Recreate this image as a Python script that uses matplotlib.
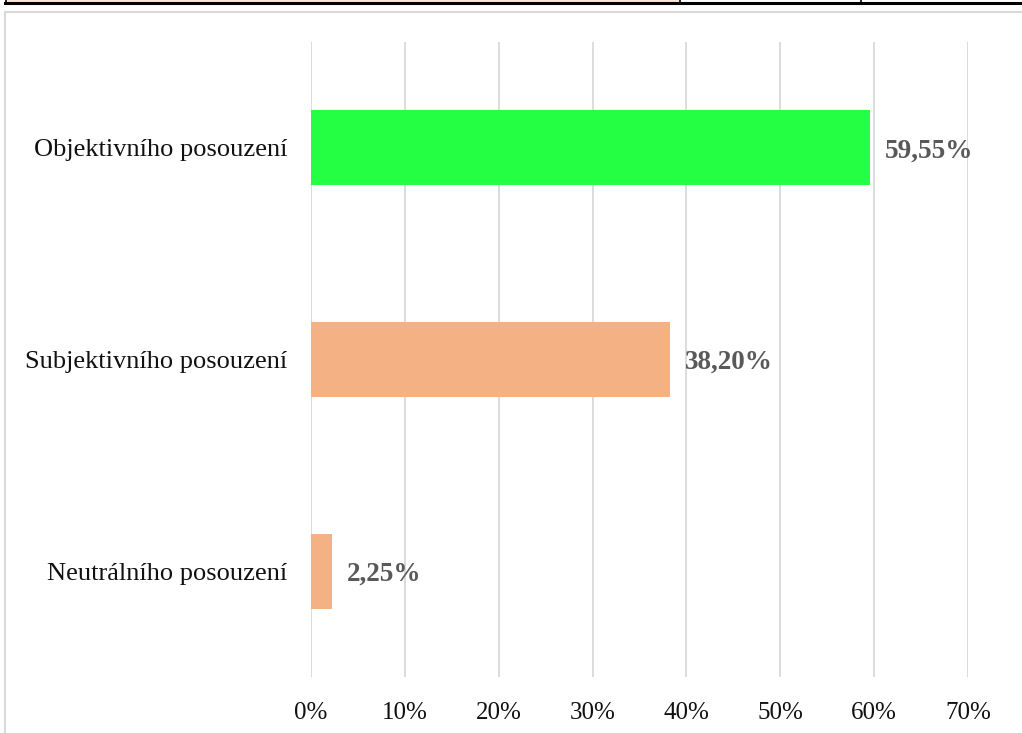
import matplotlib
matplotlib.use("Agg")
import matplotlib.pyplot as plt
from matplotlib.patches import Rectangle
from matplotlib.lines import Line2D
from matplotlib.ticker import PercentFormatter

categories = ["Objektivního posouzení", "Subjektivního posouzení", "Neutrálního posouzení"]
values = [59.55, 38.20, 2.25]
labels = ["59,55%", "38,20%", "2,25%"]
bar_colors = ["#24FF44", "#F4B183", "#F4B183"]

plt.rcParams["font.family"] = ["Liberation Serif", "DejaVu Serif"]

W, H = 1022, 733
fig = plt.figure(figsize=(W / 100, H / 100), dpi=100)
fig.patch.set_facecolor("white")

def fx(px):
    return px / W

def fy(py):
    return 1 - py / H

# Table row fragment above the chart
fig.add_artist(Rectangle((fx(7), fy(2)), fx(673), 2 / H, transform=fig.transFigure,
                         facecolor="#FBE4D5", edgecolor="none"))
fig.add_artist(Line2D([fx(5), 1], [fy(2.5), fy(2.5)], transform=fig.transFigure,
                      color="black", lw=2.2))
for xv in (6, 680, 861):
    fig.add_artist(Line2D([fx(xv), fx(xv)], [1, fy(3)], transform=fig.transFigure,
                          color="black", lw=1.2))

# Chart frame
fig.add_artist(Line2D([fx(5), 1], [fy(11.5), fy(11.5)], transform=fig.transFigure,
                      color="#D9D9D9", lw=1.5))
fig.add_artist(Line2D([fx(5), fx(5)], [fy(11.5), 0], transform=fig.transFigure,
                      color="#D9D9D9", lw=1.5))

ax = fig.add_axes([fx(311), 56 / H, fx(968) - fx(311), (677 - 42) / H])
y = list(range(len(categories)))
ax.barh(y, values, height=0.354, color=bar_colors, zorder=3)
ax.set_ylim(len(categories) - 0.5, -0.5)
ax.set_xlim(0, 70)
ax.set_xticks(range(0, 71, 10))
ax.xaxis.set_major_formatter(PercentFormatter(decimals=0))
ax.set_yticks(y)
ax.set_yticklabels(categories, fontsize=19, color="#111111")
ax.tick_params(axis="x", labelsize=18, colors="#111111", length=0, pad=18)
ax.tick_params(axis="y", length=0, pad=17)
ax.grid(axis="x", color="#D9D9D9", lw=1.3, zorder=0)
for s in ax.spines.values():
    s.set_visible(False)

for yi, v, t in zip(y, values, labels):
    ax.annotate(t, (v, yi), xytext=(15, -3), textcoords="offset pixels",
                va="center", ha="left", fontsize=19.5, fontweight="bold", color="#595959")

fig.savefig("out.png", dpi=100)
